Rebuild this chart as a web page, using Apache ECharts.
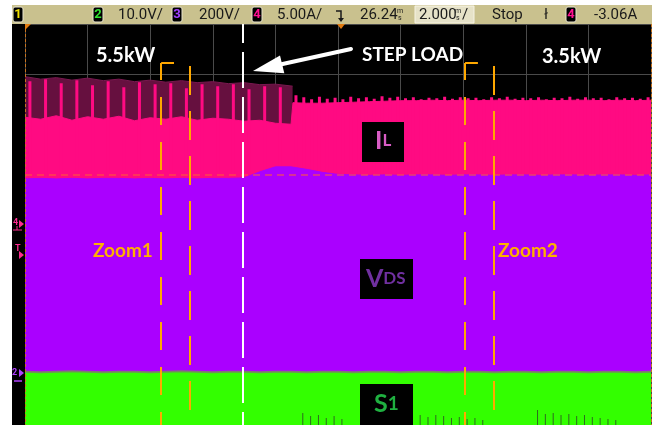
<!DOCTYPE html>
<html><head><meta charset="utf-8">
<script src="https://cdn.jsdelivr.net/npm/echarts/dist/echarts.min.js"></script>
<style>html,body{margin:0;padding:0;background:#fff}#c{width:658px;height:425px}</style>
</head><body><div id="c"></div>
<script>
// ---- data (time in ms, amplitude in screen divisions) ----
const maroonTime = [0,0.5,1,1.5,2,2.5,3,3.5,4,4.5,5,5.5,6,6.5,7,7.5,8,8.55];
const maroonVal  = [6.95,6.9,6.93,6.88,6.92,6.87,6.9,6.85,6.88,6.84,6.87,6.83,6.85,6.81,6.83,6.79,6.8,6.76];

const ilTime = [0,0.5,1,1.5,2,2.5,3,3.5,4,4.5,5,5.5,6,6.5,7,7.5,8,8.5,8.55,8.56,
  9,9.5,10,10.5,11,11.5,12,12.5,13,13.5,14,14.5,15,15.5,16,16.5,17,17.5,18,18.5,19,19.5,20];
const ilBase = [6.14,6.1,6.17,6.08,6.15,6.1,6.16,6.07,6.13,6.1,6.15,6.08,6.12,6.1,6.06,6.08,6.02,6.0,6.0,6.43,
  6.42,6.42,6.43,6.44,6.45,6.46,6.47,6.47,6.48,6.47,6.48,6.47,6.48,6.48,6.47,6.48,6.47,6.48,6.48,6.47,6.48,6.47,6.48];

// switching ripple peaks of IL, one entry per 0.25 ms bin
const ilSpikes = [
  6.86,'-',6.9,'-',6.82,'-',6.88,'-',6.78,'-',
  6.86,'-',6.74,'-',6.84,'-',6.8,'-',6.82,'-',
  6.72,'-',6.8,'-',6.76,'-',6.8,'-',6.7,'-',
  6.76,'-',6.74,'-',6.58,6.54,6.5,6.55,6.51,6.53,
  6.5,6.55,6.52,6.54,6.51,6.56,6.53,6.55,6.52,6.54,
  6.5,6.53,6.52,6.55,6.51,6.54,6.52,6.53,6.5,6.54,
  6.52,6.55,6.51,6.53,6.52,6.54,6.5,6.53,6.52,6.55,
  6.51,6.54,6.52,6.53,6.5,6.54,6.52,6.53,6.51,6.54];

const vdsTime = [0,0.5,1,1.5,2,2.5,3,3.5,4,4.5,5,5.5,6,6.5,7,7.5,8,8.5,9,9.5,10,
  10.5,11,11.5,12,12.5,13,13.5,14,14.5,15,15.5,16,16.5,17,17.5,18,18.5,19,19.5,20];
const vdsVal = [4.91,4.92,4.91,4.92,4.91,4.92,4.92,4.91,4.92,4.91,4.92,4.91,4.92,4.92,
  4.93,5.05,5.15,5.15,5.1,5.04,5.0,4.99,4.98,
  4.99,4.98,4.99,4.99,4.98,4.99,4.99,4.98,4.99,4.99,4.98,4.99,4.99,4.98,4.99,4.99,4.98,4.99];
const s1Val = [1.06,1.05,1.06,1.07,1.06,1.05,1.06,1.06,1.05,1.06,1.07,1.06,1.05,1.06,
  1.06,1.05,1.06,1.06,1.05,1.06,1.06,1.05,1.06,1.06,1.05,1.06,1.06,1.05,1.06,1.06,
  1.05,1.06,1.06,1.05,1.06,1.06,1.05,1.06,1.06,1.05,1.06];
const s1Ticks = [
  '-','-','-','-','-','-','-','-','-','-',
  '-','-','-','-','-','-','-','-','-','-',
  '-','-','-','-','-','-','-','-','-','-',
  '-','-','-','-','-',0.24,0.18,0.2,0.14,0.18,
  0.12,'-','-','-','-','-','-','-','-','-',
  0.2,0.16,0.2,0.18,0.14,0.16,0.12,0.14,0.1,'-',
  '-','-','-','-','-',0.3,0.22,0.24,0.2,0.22,
  0.18,0.2,0.16,0.14,0.12,0.1,'-','-','-','-'];

const zoomCursorA = [4.35, 14.06];
const zoomBracketEnd = [4.76, 14.47];
const zoomCursorB = [5.27, 14.98];
const stepTime = 6.96;
const refLevel = 5.0;

const zip = (a,b)=>a.map((t,i)=>[t,b[i]]);
const bins = ilSpikes.map((_,i)=>String(i));

const ORANGE = '#ffa800';
const mk = [];
zoomCursorA.forEach((t,i)=>{
  mk.push([{coord:[t,7.22],lineStyle:{color:ORANGE,width:2,type:[28,17],dashOffset:11}},{coord:[t,0]}]);
  mk.push([{coord:[t,7.22],lineStyle:{color:ORANGE,width:2,type:'solid'}},{coord:[zoomBracketEnd[i],7.22]}]);
  mk.push([{coord:[zoomCursorB[i],7.18],lineStyle:{color:ORANGE,width:2,type:[29,16],dashOffset:44}},{coord:[zoomCursorB[i],0]}]);
});
mk.push([{coord:[stepTime,8],lineStyle:{color:'#ffffff',width:2,type:[36,9],dashOffset:17}},{coord:[stepTime,0]}]);
mk.push([{coord:[0,8],lineStyle:{color:'#c8741e',width:1,type:[3,2]}},{coord:[0,0]}]);
mk.push([{coord:[20,8],lineStyle:{color:'#c8741e',width:1,type:[3,2]}},{coord:[20,0]}]);

const axisOff = {axisLine:{show:false},axisTick:{show:false},axisLabel:{show:false}};
const split = {show:true,lineStyle:{color:'#4a4a4a',width:1}};

// ---- graphics (status bar, annotations) ----
const SB = "Roboto, 'Liberation Sans', sans-serif";
const AN = "Lato, 'Open Sans', sans-serif";
function txt(x,y,text,size,fill,opt){
  return {type:'text',z:100,style:{x:x,y:y,text:text,fontSize:size,fontFamily:(opt&&opt.ff)||SB,
    fontWeight:(opt&&opt.fw)||'normal',fill:fill,align:(opt&&opt.align)||'left',verticalAlign:'middle'}};
}
function chBox(x,label,color){
  return [
    {type:'rect',z:100,shape:{x:x,y:7,width:10,height:15,r:2},style:{fill:'#000',stroke:'#e8e4cc',lineWidth:1}},
    txt(x+5,15,label,13,color,{fw:'bold',align:'center'})
  ];
}
const graphics = [
  {type:'rect',z:100,shape:{x:12,y:5,width:640,height:19},style:{fill:'#c9c18e'}},
  {type:'rect',z:100,shape:{x:12,y:24,width:13,height:401},style:{fill:'#000'}},
  ...chBox(13,'1','#f0e000'),
  ...chBox(93,'2','#30e030'),
  txt(118,15,'10.0V/',15,'#1a1a1a'),
  ...chBox(172,'3','#a040ff'),
  txt(199,15,'200V/',15,'#1a1a1a'),
  ...chBox(252,'4','#ff1090'),
  txt(277,15,'5.00A/',15,'#1a1a1a'),
  {type:'polyline',z:100,shape:{points:[[336,11],[341,11],[341,21]]},style:{stroke:'#1a1a1a',lineWidth:1.5,fill:null}},
  {type:'polygon',z:100,shape:{points:[[338,18],[344,18],[341,22]]},style:{fill:'#1a1a1a'}},
  {type:'polygon',z:100,shape:{points:[[337,24],[345,24],[341,29]]},style:{fill:'#e07a10'}},
  {type:'polygon',z:100,shape:{points:[[25,24],[31,24],[25,30]]},style:{fill:'#e07a10'}},
  txt(360,15,'26.24',15,'#1a1a1a'),
  txt(397,11,'m',7,'#1a1a1a'),
  txt(398,18,'s',7,'#1a1a1a'),
  {type:'rect',z:100,shape:{x:415,y:6,width:59,height:17},style:{fill:'#e6e2c8',stroke:'#f6f3e4',lineWidth:1}},
  txt(419,15,'2.000',15,'#1a1a1a'),
  txt(455,11,'m',7,'#1a1a1a'),
  txt(456,18,'s',7,'#1a1a1a'),
  txt(462,15,'/',15,'#1a1a1a'),
  txt(492,15,'Stop',15,'#1a1a1a'),
  txt(544,15,'ł',15,'#1a1a1a'),
  ...chBox(566,'4','#ff1090'),
  txt(594,15,'-3.06A',15,'#1a1a1a'),
  // left channel markers
  txt(13,223,'4',9,'#ff2a90',{fw:'bold'}),
  {type:'polygon',z:100,shape:{points:[[19,220],[24,224],[19,228]]},style:{fill:'#ff2a90'}},
  {type:'polyline',z:100,shape:{points:[[13,230],[22,230]]},style:{stroke:'#ff2a90',lineWidth:1}},
  {type:'polyline',z:100,shape:{points:[[17,226],[17,230]]},style:{stroke:'#ff2a90',lineWidth:1}},
  txt(15,249,'T',9,'#ff2a90',{fw:'bold'}),
  {type:'polygon',z:100,shape:{points:[[19,251],[24,255],[19,259]]},style:{fill:'#ff2a90'}},
  txt(12,373,'2',9,'#b040ff',{fw:'bold'}),
  {type:'polygon',z:100,shape:{points:[[19,369],[24,373],[19,377]]},style:{fill:'#b040ff'}},
  {type:'polyline',z:100,shape:{points:[[14,381],[22,381]]},style:{stroke:'#b040ff',lineWidth:1.5}},
  // annotations
  txt(96,56,'5.5kW',20,'#ffffff',{ff:AN,fw:'bold'}),
  txt(362,55,'STEP LOAD',19,'#ffffff',{ff:AN,fw:'bold'}),
  txt(542,57,'3.5kW',20,'#ffffff',{ff:AN,fw:'bold'}),
  {type:'line',z:100,shape:{x1:351,y1:49,x2:278,y2:65},style:{stroke:'#ffffff',lineWidth:4,lineCap:'round'}},
  {type:'polygon',z:100,shape:{points:[[253,71],[280,55.6],[284.3,73.2]]},style:{fill:'#ffffff'}},
  txt(93,251,'Zoom1',19,'#ffb000',{ff:AN,fw:'bold'}),
  txt(498,251,'Zoom2',19,'#ffb000',{ff:AN,fw:'bold'}),
  // channel labels
  {type:'rect',z:100,shape:{x:362,y:122,width:42,height:40},style:{fill:'#000'}},
  {type:'text',z:101,style:{x:375,y:153,text:'{a|I}{b|L}',fontFamily:AN,verticalAlign:'bottom',
    rich:{a:{fontSize:25,fontWeight:'bold',fill:'#d85cc4',fontFamily:AN},b:{fontSize:17,fontWeight:'bold',fill:'#d85cc4',fontFamily:AN}}}},
  {type:'rect',z:100,shape:{x:360,y:259,width:53,height:40},style:{fill:'#000'}},
  {type:'text',z:101,style:{x:366,y:291,text:'{a|V}{b|DS}',fontFamily:AN,verticalAlign:'bottom',
    rich:{a:{fontSize:25,fontWeight:'bold',fill:'#7030a0',fontFamily:AN},b:{fontSize:17,fontWeight:'bold',fill:'#7030a0',fontFamily:AN}}}},
  {type:'rect',z:100,shape:{x:360,y:384,width:53,height:41},style:{fill:'#000'}},
  {type:'text',z:101,style:{x:374,y:416,text:'{a|S}{b|1}',fontFamily:AN,verticalAlign:'bottom',
    rich:{a:{fontSize:25,fontWeight:'bold',fill:'#1fb040',fontFamily:AN},b:{fontSize:19,fontWeight:'bold',fill:'#1fb040',fontFamily:AN}}}}
];

const option = {
  animation:false,
  backgroundColor:'#ffffff',
  grid:{left:25,right:7,top:24,bottom:0,show:true,backgroundColor:'#000',borderWidth:0},
  xAxis:[
    Object.assign({type:'value',min:0,max:20,interval:2,splitLine:split},axisOff),
    Object.assign({type:'category',data:bins,boundaryGap:true,show:false},axisOff)
  ],
  yAxis:Object.assign({type:'value',min:0,max:8,interval:1,splitLine:split},axisOff),
  series:[
    {type:'line',z:2,data:zip(maroonTime,maroonVal),symbol:'none',lineStyle:{color:'#7a1850',width:1},
      areaStyle:{color:'#66103f',opacity:1,origin:'start'}},
    {type:'line',z:3,data:zip(ilTime,ilBase),symbol:'none',lineStyle:{color:'#ff0a82',width:1},
      areaStyle:{color:'#ff0a82',opacity:1,origin:'start'}},
    {type:'bar',z:4,xAxisIndex:1,data:ilSpikes,barWidth:3,barGap:'-100%',itemStyle:{color:'#ff0a82'}},
    {type:'line',z:5,data:zip(vdsTime,vdsVal),symbol:'none',lineStyle:{color:'#aa00ff',width:1},
      areaStyle:{color:'#aa00ff',opacity:1,origin:'start'}},
    {type:'line',z:6,data:[[0,refLevel]],symbol:'none',lineStyle:{opacity:0},
      markLine:{z:6,silent:true,symbol:['none','none'],label:{show:false},animation:false,
        lineStyle:{color:'rgba(255,90,60,0.7)',width:1.5,type:[7,5]},
        data:[[{coord:[0,refLevel]},{coord:[20,refLevel]}]]}},
    {type:'line',z:7,data:zip(vdsTime,s1Val),symbol:'none',lineStyle:{color:'rgba(120,135,95,0.9)',width:2},
      areaStyle:{color:'#33ff00',opacity:1,origin:'start'}},
    {type:'bar',z:8,xAxisIndex:1,data:s1Ticks,barWidth:1,barGap:'-100%',itemStyle:{color:'#2f6a20'}},
    {type:'line',z:20,data:[[0,0]],symbol:'none',lineStyle:{opacity:0},
      markLine:{z:20,silent:true,symbol:['none','none'],label:{show:false},animation:false,data:mk}}
  ],
  graphic:graphics
};
const chart = echarts.init(document.getElementById('c'));
chart.setOption(option);
</script></body></html>
